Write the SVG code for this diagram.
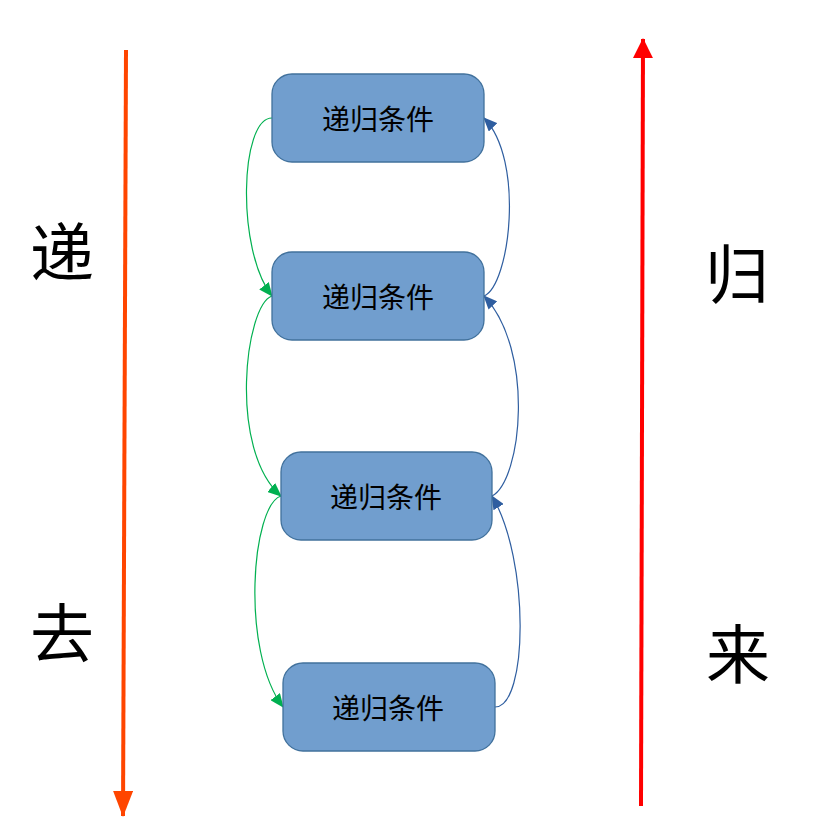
<svg xmlns="http://www.w3.org/2000/svg" width="813" height="823" viewBox="0 0 813 823">
<style>
.box{fill:#719ECE;stroke:#41719C;stroke-width:1.3}
.lbl{font-family:"Noto Sans CJK SC","Noto Sans CJK JP",sans-serif;font-size:28px;fill:#000;text-anchor:middle}
.big{font-family:"Noto Sans CJK SC","Noto Sans CJK JP",sans-serif;font-size:64px;fill:#000;text-anchor:middle}
.g{fill:none;stroke:#00B050;stroke-width:1.2;marker-end:url(#ag)}
.b{fill:none;stroke:#2F5EA0;stroke-width:1.2;marker-end:url(#ab)}
</style>
<defs>
<marker id="ag" markerUnits="userSpaceOnUse" markerWidth="14" markerHeight="12" refX="13" refY="6" orient="auto" viewBox="0 0 14 12"><path d="M0,0L14,6L0,12Z" fill="#00B050"/></marker>
<marker id="ab" markerUnits="userSpaceOnUse" markerWidth="14" markerHeight="12" refX="13" refY="6" orient="auto" viewBox="0 0 14 12"><path d="M0,0L14,6L0,12Z" fill="#2F5EA0"/></marker>
<marker id="ao" markerUnits="userSpaceOnUse" markerWidth="26" markerHeight="20" refX="25" refY="10" orient="auto" viewBox="0 0 26 20"><path d="M0,0L26,10L0,20Z" fill="#FF4500"/></marker>
<marker id="ar" markerUnits="userSpaceOnUse" markerWidth="20" markerHeight="20" refX="19" refY="10" orient="auto" viewBox="0 0 20 20"><path d="M0,0L20,10L0,20Z" fill="#FF0000"/></marker>
</defs>
<g id="left-arrow"><line x1="126" y1="50" x2="123" y2="816" stroke="#FF4500" stroke-width="4" marker-end="url(#ao)"/></g>
<g id="right-arrow"><line x1="641" y1="806" x2="643" y2="39" stroke="#FF0000" stroke-width="4" marker-end="url(#ar)"/></g>
<g id="connectors">
<path class="g" d="M272,118 C240,118 236,250 272,296"/>
<path class="g" d="M272,296 C245,305 228,450 281,496"/>
<path class="g" d="M281,496 C252,505 240,650 283,707"/>
<path class="b" d="M495,707 C528,707 530,560 492,496"/>
<path class="b" d="M492,496 C522,480 535,350 484,296"/>
<path class="b" d="M484,296 C510,285 525,160 484,118"/>
</g>
<g id="node1"><rect class="box" x="272" y="74" width="212" height="88" rx="20"/><text class="lbl" x="378" y="130">递归条件</text></g>
<g id="node2"><rect class="box" x="272" y="252" width="212" height="88" rx="20"/><text class="lbl" x="378" y="308">递归条件</text></g>
<g id="node3"><rect class="box" x="281" y="452" width="211" height="88" rx="20"/><text class="lbl" x="386" y="508">递归条件</text></g>
<g id="node4"><rect class="box" x="283" y="663" width="212" height="88" rx="20"/><text class="lbl" x="388" y="719">递归条件</text></g>
<g id="label-di"><text class="big" x="62" y="276">递</text></g>
<g id="label-qu"><text class="big" x="62" y="657">去</text></g>
<g id="label-gui"><text class="big" x="737" y="298">归</text></g>
<g id="label-lai"><text class="big" x="738" y="678">来</text></g>
</svg>
